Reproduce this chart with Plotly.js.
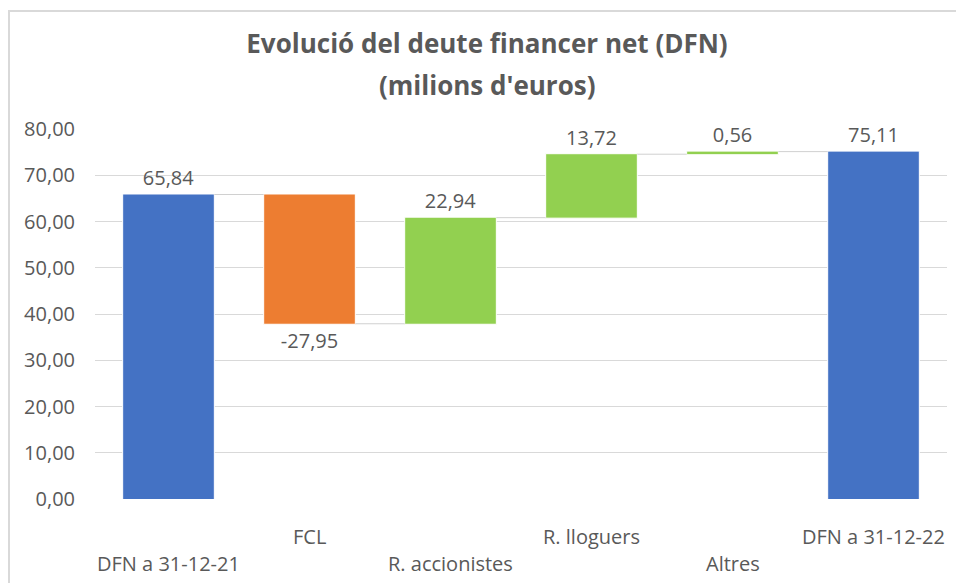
<!DOCTYPE html>
<html>
<head>
<meta charset="utf-8">
<script src="https://cdn.plot.ly/plotly-3.0.1.min.js"></script>
<style>
  html, body { margin: 0; padding: 0; background: #ffffff; overflow: hidden; }
  #chart { position: absolute; left: 0; top: 0; width: 956px; height: 583px; }
  #frame { position: absolute; left: 8px; top: 10px; width: 1000px; height: 700px;
           border: 2px solid #d9d9d9; pointer-events: none; }
</style>
</head>
<body>
<div id="chart"></div>
<div id="frame"></div>
<script>
const categories = ["DFN a 31-12-21", "FCL", "R. accionistes", "R. lloguers", "Altres", "DFN a 31-12-22"];
const values = [65.84, -27.95, 22.94, 13.72, 0.56, 75.11];
const measures = ["absolute", "relative", "relative", "relative", "relative", "total"];
const yTicks = [0, 10, 20, 30, 40, 50, 60, 70, 80];
const titleLines = ["Evolució del deute financer net (DFN)", "(milions d'euros)"];

const textColor = "#595959";
const fontFam = "'Open Sans', 'Noto Sans', sans-serif";
const fmt = v => v.toFixed(2).replace(".", ",");
const titleCenter = 487 / 956;

const trace = {
  type: "waterfall",
  x: categories,
  y: values,
  measure: measures,
  text: values.map(fmt),
  textposition: "outside",
  textfont: { family: fontFam, size: 20, color: textColor },
  cliponaxis: false,
  increasing: { marker: { color: "#92D050", line: { color: "#ffffff", width: 1 } } },
  decreasing: { marker: { color: "#ED7D31", line: { color: "#ffffff", width: 1 } } },
  totals: { marker: { color: "#4472C4", line: { color: "#ffffff", width: 1 } } },
  connector: { mode: "between", line: { color: "#d0d0d0", width: 1 } },
  hoverinfo: "skip"
};

const annotations = categories.map((c, i) => ({
  text: c,
  x: c,
  xref: "x",
  y: 0,
  yref: "paper",
  yanchor: "middle",
  xanchor: "center",
  yshift: i % 2 === 0 ? -64 : -37,
  showarrow: false,
  font: { family: fontFam, size: 20, color: textColor }
}));

annotations.push({
  text: "<b>" + titleLines[1] + "</b>",
  x: (487 - 95) / 852,
  xref: "paper",
  y: 1,
  yref: "paper",
  xanchor: "center",
  yanchor: "middle",
  yshift: 129 - 85,
  showarrow: false,
  font: { family: fontFam, size: 26, color: textColor }
});

const layout = {
  width: 956,
  height: 583,
  margin: { l: 95, r: 9, t: 129, b: 84 },
  paper_bgcolor: "rgba(0,0,0,0)",
  plot_bgcolor: "rgba(0,0,0,0)",
  separators: ", ",
  showlegend: false,
  waterfallgap: 0.35,
  title: {
    text: "<b>" + titleLines[0] + "</b>",
    x: titleCenter,
    xanchor: "center",
    xref: "container",
    y: 1 - 44 / 583,
    yref: "container",
    yanchor: "middle",
    font: { family: fontFam, size: 26, color: textColor }
  },
  xaxis: {
    type: "category",
    showticklabels: false,
    showgrid: false,
    zeroline: false,
    showline: false,
    ticks: ""
  },
  yaxis: {
    range: [0, 80],
    tickvals: yTicks,
    tickformat: ".2f",
    showgrid: true,
    gridcolor: "#d9d9d9",
    gridwidth: 1,
    zeroline: false,
    showline: false,
    ticks: "",
    ticklabelstandoff: 19,
    tickfont: { family: fontFam, size: 20, color: textColor }
  },
  annotations: annotations
};

Plotly.newPlot("chart", [trace], layout, { displayModeBar: false, staticPlot: true });
</script>
</body>
</html>
